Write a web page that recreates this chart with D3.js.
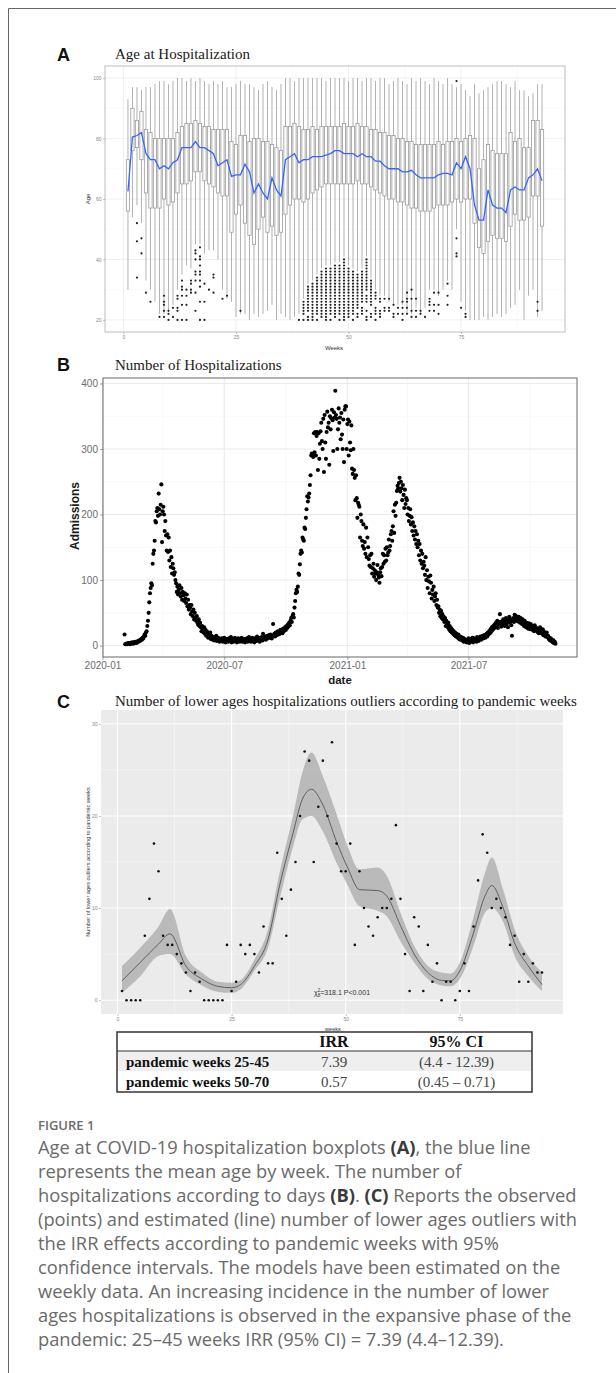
<!DOCTYPE html>
<html>
<head>
<meta charset="utf-8">
<script src="https://cdn.jsdelivr.net/npm/d3@7"></script>
<style>
  body { margin: 0; background: #fff; }
  svg { display: block; }
</style>
</head>
<body>
<svg id="fig" width="616" height="1373"></svg>
<script>
// ---------- panel A: age at hospitalization, weekly boxplots ----------
const weeks = [1,2,3,4,5,6,7,8,9,10,11,12,13,14,15,16,17,18,19,20,21,22,23,24,25,26,27,28,29,30,
  31,32,33,34,35,36,37,38,39,40,41,42,43,44,45,46,47,48,49,50,51,52,53,54,55,56,57,58,59,60,
  61,62,63,64,65,66,67,68,69,70,71,72,73,74,75,76,77,78,79,80,81,82,83,84,85,86,87,88,89,90,91,92,93];
const whiskerHigh = [93,97,97,96,97,97,98,99,99,98,99,100,100,99,100,99,100,99,98,99,98,99,97,97,98,99,98,98,97,96,
  98,99,97,96,98,100,100,99,100,100,100,100,100,100,99,100,100,100,100,99,100,100,99,100,100,99,100,100,98,99,
  100,99,98,100,99,100,99,98,100,99,98,100,98,97,98,96,94,98,95,96,97,98,99,99,98,97,99,96,96,94,95,98,98];
const upperHinge = [73,90,86,89,83,82,80,80,80,80,80,82,84,85,85,86,85,84,84,83,83,83,83,79,78,81,81,79,80,80,
  79,79,78,77,76,84,84,85,84,83,83,84,83,84,84,84,84,84,85,84,84,85,84,84,83,83,82,82,81,81,
  80,80,79,79,78,78,78,78,78,79,78,79,79,80,79,80,81,80,70,73,78,76,75,75,75,82,79,80,77,77,86,86,83];
const lowerHinge = [56,76,77,73,62,57,57,57,60,58,59,62,65,65,66,69,69,66,65,64,62,61,61,49,55,58,52,48,45,50,
  54,49,51,48,49,55,58,60,60,59,60,62,63,64,65,65,65,65,65,65,65,66,65,65,64,63,62,61,60,60,
  59,59,58,57,57,56,56,56,57,58,58,58,59,60,59,60,60,52,44,42,46,48,47,47,46,51,55,53,53,54,61,61,51];
const whiskerLow = [30,54,58,52,33,30,26,22,22,23,25,30,35,38,37,45,45,42,43,43,40,30,27,26,21,22,22,20,22,21,
  22,23,25,20,22,21,20,21,22,27,32,33,35,37,38,38,39,39,41,38,37,36,37,41,34,30,28,28,26,25,
  25,25,22,22,24,22,24,30,30,28,30,33,30,50,26,23,20,20,20,21,20,21,22,21,22,24,25,30,20,28,30,21,23];
const meanAge = [62.5,80.5,81,82,75,73,73,70,71,70,72,73,77,77,77,79,77,77,76,75,71,72,73,67.5,68,68,71.5,69,62,65,
  62,60,67,63,61,73,74,75,72,73,73,74,74,74,74.5,75,76,76,75,75,75,74,75,74,74,72.5,72.5,71,70,70,
  70,69,69,69.5,68,67,67,67,67,68,68.5,68.5,68,72,70,74,70,58,53,53,63,58,57,57,55.5,63,64,63,63,67,68,70,66];
// low-age outliers: [week, ages]
const outliers = [
  [3,[52,46,34]],[4,[47,42]],[5,[29]],[6,[26]],[8,[21]],[9,[28,26,25,23,21]],[10,[23,22,20]],
  [11,[24,21]],[12,[28,27,24,23,20]],[13,[33,31,30,28,25,20]],[14,[30,28,25,20]],[15,[33,32,30,29]],
  [16,[43,42,40,36,35,33,29,23]],[17,[44,41,40,38,36,35,33,31,26,20]],[18,[32,26,20]],[19,[30]],
  [20,[35,34,29]],[22,[27]],[23,[28]],[26,[23]],[39,[20]],
  [40,[20,22,23,24,25,26]],
  [41,[20,21,23,24,25,26,27,28,29,30,31]],
  [42,[20,21,22,23,24,25,26,27,28,29,30,31,32]],
  [43,[20,22,23,24,25,26,27,28,29,30,31,32,33,34]],
  [44,[21,22,23,24,25,26,27,28,29,30,31,32,33,34,35,36]],
  [45,[20,21,22,23,24,25,26,27,28,29,30,31,32,33,34,35,36,37]],
  [46,[20,22,23,24,25,26,27,28,29,30,31,32,33,34,35,36,37]],
  [47,[21,22,23,24,25,26,27,28,29,30,31,32,33,34,35,36,37,38]],
  [48,[20,22,23,24,25,26,27,28,29,30,31,32,33,34,35,36,37,38]],
  [49,[20,21,22,23,24,25,26,27,28,29,30,31,32,33,34,35,36,37,38,39,40]],
  [50,[21,22,23,24,25,26,27,28,29,30,31,32,33,34,35,36,37]],
  [51,[20,22,23,24,25,26,27,28,29,30,31,32,33,34,35,36]],
  [52,[21,22,24,25,26,27,28,29,30,31,32,33,34,35]],
  [53,[22,23,24,26,27,28,29,30,31,32,33,34,35,36]],
  [54,[20,21,23,26,27,28,30,31,32,33,34,35,36,37,38,39,40]],
  [55,[21,22,25,26,27,28,29,30,31,32,33]],
  [56,[20,22,23,24,27,28,29]],[57,[21,22,23,26,27]],[58,[23,24,27]],
  [59,[27,24,23]],[60,[25,22,21]],[61,[24,22]],[62,[26,24,22,20]],[63,[29,27,26,24,22]],
  [64,[30,27,23,21]],[65,[27,23,21]],[66,[23,22]],[67,[21]],[68,[27,26,25,23]],[69,[29,25,23]],
  [70,[29,25,22]],[72,[32,28,25]],[74,[99,47,42,41]],[75,[24]],[76,[22,21]],[92,[26,23]]
];
const ageTicks = [20, 40, 60, 80, 100];
const ageMinor = [30, 50, 70, 90];
const weekTicks = [0, 25, 50, 75];
const weekMinor = [12.5, 37.5, 62.5, 87.5];

// ---------- panel B: daily admissions ----------
const admissionsStart = [2020, 1, 3]; // 2020-02-03
const admissions = [
  17,2,2,3,2,3,4, 3,2,4,3,5,4,3, 5,4,6,5,4,6,7, 6,8,7,9,10,9,12,
  11,14,17,15,20,22,30, 38,50,66,80,88,95,92, 125,140,145,160,190,188,205, 210,198,232,208,200,215,246,
  158,205,212,200,175,190,168, 145,170,143,165,130,145,120, 135,110,125,118,108,112,100, 95,82,90,78,85,92,80,
  75,88,70,82,77,68,80, 72,65,78,60,70,55,62, 58,48,62,52,45,55,40, 50,42,38,45,35,32,40,
  30,35,28,22,30,25,20, 28,18,24,15,22,19,12, 17,14,20,10,15,12,9, 13,8,11,10,15,7,9,
  12,8,6,10,9,11,7, 6,9,12,8,5,10,7, 9,6,11,8,7,13,5, 8,10,6,9,12,7,8,
  5,9,11,7,6,10,8, 12,6,9,7,10,5,8, 9,11,6,8,13,7,10, 6,9,12,8,10,5,11,
  9,7,14,10,8,12,6, 11,9,13,8,18,10,12, 14,9,12,15,11,13,16, 12,17,14,11,15,33,16,
  18,14,20,16,19,22,17, 21,18,24,20,23,19,26, 22,25,28,24,30,27,32, 29,35,31,38,42,36,45,
  48,43,58,68,80,85,82, 90,110,108,124,140,145,142, 165,162,160,180,178,195,208, 228,220,226,232,245,260,290,
  293,292,288,324,295,326,290, 320,326,268,324,285,308,327, 340,312,300,346,265,352,310, 285,326,357,333,340,276,350,
  330,347,360,344,297,356,348, 389,352,346,300,330,362,340, 348,315,355,322,300,345,280, 360,365,365,300,338,345,290,
  342,310,298,336,270,262,300, 268,256,222,260,225,195,218, 215,212,165,200,190,160,152, 185,148,158,140,180,135,165,
  150,132,122,138,120,140,110, 118,125,105,115,110,100,112, 123,108,104,96,112,118,106, 120,140,125,138,128,148,130,
  150,138,142,162,145,152,170, 175,160,182,205,172,215,198, 218,236,244,240,248,256,235, 250,240,222,245,230,210,238,
  216,225,222,200,210,190,198, 208,185,196,175,188,168,182, 162,175,155,170,150,160,138, 155,130,145,125,140,118,128,
  122,108,135,100,115,88,105, 98,80,107,96,72,85,78, 90,68,75,80,62,70,58, 60,50,55,45,53,42,48,
  40,44,36,42,30,38,33, 28,35,25,30,22,27,20, 24,18,22,16,20,14,18, 15,12,17,10,14,9,13,
  11,8,12,6,10,7,9, 5,9,7,11,4,8,10, 6,9,12,5,8,11,7, 10,6,13,9,7,12,10,
  14,9,12,15,11,13,16, 12,15,18,14,20,17,22, 19,25,21,28,24,30,26, 32,28,35,30,38,27,33,
  36,48,34,29,37,32,40, 35,30,38,42,33,36,28, 39,44,35,40,31,15,38, 42,36,47,40,45,38,43,
  37,44,40,35,42,38,33, 40,36,30,38,34,28,35, 32,26,34,30,25,33,28, 30,24,28,22,31,26,23,
  27,21,25,19,24,28,20, 22,18,25,16,21,19,14, 17,20,13,15,10,12,8, 11,7,9,5,8,4,6,
  3
];
const admTicks = [0, 100, 200, 300, 400];
const admMinor = [50, 150, 250, 350];
const dateTicks = [[2020,0,1],[2020,6,1],[2021,0,1],[2021,6,1]];
const dateMinor = [[2020,3,1],[2020,9,1],[2021,3,1],[2021,9,1]];

// ---------- panel C: weekly count of low-age outliers ----------
const outlierCounts = [1,0,0,0,0,7,11,17,14,7,6,6,5,4,3,1,3,2,0,0,0,0,0,6,1,2,6,5,6,5,
  3,8,4,4,16,11,7,12,15,20,27,26,15,21,26,20,28,17,14,14,17,6,14,10,8,7,9,10,10,11,
  19,11,5,1,9,8,1,6,2,4,0,2,2,0,1,4,1,8,13,18,16,10,11,10,9,6,7,2,5,2,4,3,3];
const fitWeeks = [1,5,9,11.5,15,18.5,22,25,27,30,33,35.5,38.5,40.5,42.5,45,48,50.5,53,57,59,62,65,68,71,73,75,78,80.5,82,84.5,87,90,93];
const fitMean  = [2.1,4.1,6.1,7.2,3.7,2.3,1.5,1.35,1.7,3.7,6.6,12.4,18.2,21.8,22.9,21.2,17.2,14.3,12.0,11.9,11.3,8.1,5.0,3.0,2.15,2.1,3.2,7.3,11.3,12.45,10.0,6.2,3.7,1.7];
const fitHigh  = [3.7,5.7,8.0,9.9,4.8,3.0,2.0,1.9,2.2,4.4,7.7,13.8,20.1,24.7,26.9,24.3,20.2,16.6,14.2,14.4,13.5,9.5,5.9,3.7,3.0,2.9,4.1,9.0,13.8,15.5,12.0,7.7,4.8,3.0];
const fitLow   = [0.8,2.6,4.8,5.0,2.8,1.6,0.9,0.8,1.2,3.2,5.7,10.9,16.7,19.6,20.0,18.3,14.9,12.4,10.2,9.7,9.1,6.4,4.1,2.3,1.6,1.5,2.3,5.9,9.5,10.0,8.5,4.8,2.6,1.0];
const countTicks = [0, 10, 20, 30];
const countMinor = [5, 15, 25];

const tableHeader = ["", "IRR", "95% CI"];
const tableRows = [
  ["pandemic weeks 25-45", "7.39", "(4.4 - 12.39)"],
  ["pandemic weeks 50-70", "0.57", "(0.45 \u2013 0.71)"]
];

const captionLines = [
  [["Age at COVID-19 hospitalization boxplots ", 0], ["(A)", 1], [", the blue line", 0]],
  [["represents the mean age by week. The number of", 0]],
  [["hospitalizations according to days ", 0], ["(B)", 1], [". ", 0], ["(C)", 1], [" Reports the observed", 0]],
  [["(points) and estimated (line) number of lower ages outliers with", 0]],
  [["the IRR effects according to pandemic weeks with 95%", 0]],
  [["confidence intervals. The models have been estimated on the", 0]],
  [["weekly data. An increasing incidence in the number of lower", 0]],
  [["ages hospitalizations is observed in the expansive phase of the", 0]],
  [["pandemic: 25\u201345 weeks IRR (95% CI) = 7.39 (4.4\u201312.39).", 0]]
];

// ---------- drawing ----------
const SANS = "'Liberation Sans', Arial, sans-serif";
const SERIF = "'Liberation Serif', 'Times New Roman', serif";
const svg = d3.select("#fig");

// outer frame (top and left only)
svg.append("path").attr("d", "M8.5,1373 V8.5 H616")
  .attr("fill", "none").attr("stroke", "#666").attr("stroke-width", 1);

function grid(g, x, y, xMaj, xMin, yMaj, yMin, cMaj, cMin, wMaj, wMin) {
  const [x0, x1] = x.range();
  const [y0, y1] = y.range();
  const vl = (vals, c, w) => g.append("g").selectAll("line").data(vals).join("line")
    .attr("x1", d => x(d)).attr("x2", d => x(d)).attr("y1", y0).attr("y2", y1)
    .attr("stroke", c).attr("stroke-width", w);
  const hl = (vals, c, w) => g.append("g").selectAll("line").data(vals).join("line")
    .attr("x1", x0).attr("x2", x1).attr("y1", d => y(d)).attr("y2", d => y(d))
    .attr("stroke", c).attr("stroke-width", w);
  vl(xMin, cMin, wMin); hl(yMin, cMin, wMin);
  vl(xMaj, cMaj, wMaj); hl(yMaj, cMaj, wMaj);
}

function styleAxis(a, fs, col, tickCol) {
  a.select(".domain").remove();
  a.selectAll(".tick line").attr("stroke", tickCol).attr("stroke-width", 0.6);
  a.selectAll(".tick text").attr("font-size", fs).attr("fill", col).attr("font-family", SANS);
}

function panelLabel(letter, x, y) {
  svg.append("text").attr("x", x).attr("y", y).text(letter)
    .attr("font-family", SANS).attr("font-weight", "bold").attr("font-size", 18).attr("fill", "#111");
}
function panelTitle(t, x, y, fs) {
  svg.append("text").attr("x", x).attr("y", y).text(t)
    .attr("font-family", SERIF).attr("font-size", fs).attr("fill", "#1a1a1a");
}

// ===== Panel A =====
panelLabel("A", 57, 61);
panelTitle("Age at Hospitalization", 115, 59, 15);

const xA = d3.scaleLinear().domain([-4.1, 98.1]).range([105, 565]);
const yA = d3.scaleLinear().domain([16, 104]).range([332, 66]);
const gA = svg.append("g");
gA.append("rect").attr("x", 105).attr("y", 66).attr("width", 460).attr("height", 266).attr("fill", "#fff");
grid(gA, xA, yA, weekTicks, weekMinor, ageTicks, ageMinor, "#ececec", "#f5f5f5", 0.8, 0.5);

const bw = (xA(1) - xA(0)) * 0.72;
const boxes = weeks.map((w, i) => ({
  w, hi: whiskerHigh[i], q3: upperHinge[i], q1: lowerHinge[i], lo: whiskerLow[i]
}));
const gBox = gA.append("g");
gBox.selectAll(".wh").data(boxes).join("line")
  .attr("x1", d => xA(d.w)).attr("x2", d => xA(d.w))
  .attr("y1", d => yA(d.hi)).attr("y2", d => yA(d.q3))
  .attr("stroke", "#a8a8a8").attr("stroke-width", 0.9);
gBox.selectAll(".wl").data(boxes).join("line")
  .attr("x1", d => xA(d.w)).attr("x2", d => xA(d.w))
  .attr("y1", d => yA(d.q1)).attr("y2", d => yA(d.lo))
  .attr("stroke", "#a8a8a8").attr("stroke-width", 0.9);
gBox.selectAll("rect").data(boxes).join("rect")
  .attr("x", d => xA(d.w) - bw / 2).attr("width", bw)
  .attr("y", d => yA(d.q3)).attr("height", d => yA(d.q1) - yA(d.q3))
  .attr("fill", "#fff").attr("stroke", "#9a9a9a").attr("stroke-width", 0.8);

const outPts = outliers.flatMap(([w, ages]) => ages.map(a => [w, a]));
gA.append("g").selectAll("circle").data(outPts).join("circle")
  .attr("cx", d => xA(d[0])).attr("cy", d => yA(d[1])).attr("r", 1.1).attr("fill", "#222");

gA.append("path").datum(meanAge)
  .attr("d", d3.line().x((d, i) => xA(weeks[i])).y(d => yA(d)))
  .attr("fill", "none").attr("stroke", "#3366ff").attr("stroke-width", 1.3);

gA.append("rect").attr("x", 105).attr("y", 66).attr("width", 460).attr("height", 266)
  .attr("fill", "none").attr("stroke", "#bdbdbd").attr("stroke-width", 1);

styleAxis(gA.append("g").attr("transform", "translate(105,0)")
  .call(d3.axisLeft(yA).tickValues(ageTicks).tickSize(2).tickPadding(1.5)), 5, "#888", "#999");
styleAxis(gA.append("g").attr("transform", "translate(0,332)")
  .call(d3.axisBottom(xA).tickValues(weekTicks).tickSize(2).tickPadding(1.5)), 5, "#888", "#999");
gA.append("text").attr("transform", "translate(90,199) rotate(-90)").attr("text-anchor", "middle")
  .text("Age").attr("font-family", SANS).attr("font-size", 6).attr("fill", "#333");
gA.append("text").attr("x", 334).attr("y", 350).attr("text-anchor", "middle")
  .text("Weeks").attr("font-family", SANS).attr("font-size", 6).attr("fill", "#333");

// ===== Panel B =====
panelLabel("B", 57, 371);
panelTitle("Number of Hospitalizations", 115, 370, 15);

const admDates = admissions.map((v, i) =>
  new Date(admissionsStart[0], admissionsStart[1], admissionsStart[2] + i));
const tExt = d3.extent(admDates).map(d => +d);
const tPad = (tExt[1] - tExt[0]) * 0.05;
const vExt = d3.extent(admissions);
const vPad = (vExt[1] - vExt[0]) * 0.05;
const xB = d3.scaleTime().domain([new Date(tExt[0] - tPad), new Date(tExt[1] + tPad)]).range([103, 577]);
const yB = d3.scaleLinear().domain([vExt[0] - vPad, vExt[1] + vPad]).range([657, 378]);
const gB = svg.append("g");
const toDate = a => new Date(a[0], a[1], a[2]);
grid(gB, xB, yB, dateTicks.map(toDate), dateMinor.map(toDate), admTicks, admMinor, "#e6e6e6", "#f3f3f3", 0.9, 0.5);

gB.append("g").selectAll("circle").data(admissions).join("circle")
  .attr("cx", (d, i) => xB(admDates[i])).attr("cy", d => yB(d)).attr("r", 2.05).attr("fill", "#000");

gB.append("rect").attr("x", 103).attr("y", 378).attr("width", 474).attr("height", 279)
  .attr("fill", "none").attr("stroke", "#666").attr("stroke-width", 1);

styleAxis(gB.append("g").attr("transform", "translate(103,0)")
  .call(d3.axisLeft(yB).tickValues(admTicks).tickSize(3).tickPadding(2)), 10, "#6b6b6b", "#666");
styleAxis(gB.append("g").attr("transform", "translate(0,657)")
  .call(d3.axisBottom(xB).tickValues(dateTicks.map(toDate)).tickFormat(d3.timeFormat("%Y-%m"))
    .tickSize(3).tickPadding(1.5)), 10, "#6b6b6b", "#666");
gB.append("text").attr("transform", "translate(79,516) rotate(-90)").attr("text-anchor", "middle")
  .text("Admissions").attr("font-family", SANS).attr("font-weight", "bold").attr("font-size", 12).attr("fill", "#1a1a1a");
gB.append("text").attr("x", 340).attr("y", 684).attr("text-anchor", "middle")
  .text("date").attr("font-family", SANS).attr("font-weight", "bold").attr("font-size", 11.5).attr("fill", "#1a1a1a");

// ===== Panel C =====
panelLabel("C", 57, 708);
panelTitle("Number of lower ages hospitalizations outliers according to pandemic weeks", 115, 706, 15);

const xC = d3.scaleLinear().domain([-3.6, 97.6]).range([101, 563]);
const yC = d3.scaleLinear().domain([-1.5, 31.5]).range([1014, 710]);
const gC = svg.append("g");
gC.append("rect").attr("x", 101).attr("y", 710).attr("width", 462).attr("height", 304).attr("fill", "#ebebeb");
grid(gC, xC, yC, weekTicks, weekMinor, countTicks, countMinor, "#ffffff", "#f7f7f7", 1.1, 0.55);

gC.append("path").datum(fitWeeks)
  .attr("d", d3.area().curve(d3.curveMonotoneX)
    .x(d => xC(d)).y0((d, i) => yC(fitLow[i])).y1((d, i) => yC(fitHigh[i])))
  .attr("fill", "#999").attr("fill-opacity", 0.6);
gC.append("path").datum(fitWeeks)
  .attr("d", d3.line().curve(d3.curveMonotoneX).x(d => xC(d)).y((d, i) => yC(fitMean[i])))
  .attr("fill", "none").attr("stroke", "#555").attr("stroke-width", 0.9);
gC.append("g").selectAll("circle").data(outlierCounts).join("circle")
  .attr("cx", (d, i) => xC(weeks[i])).attr("cy", d => yC(d)).attr("r", 1.3).attr("fill", "#111");

const chi = gC.append("text").attr("x", 314).attr("y", 995)
  .attr("font-family", SANS).attr("font-size", 7).attr("fill", "#333");
chi.append("tspan").text("\u03c7");
chi.append("tspan").attr("font-size", 4.5).attr("dy", -3).text("2");
chi.append("tspan").attr("font-size", 4.5).attr("dx", -2.5).attr("dy", 5).text("8");
chi.append("tspan").attr("dy", -2).text("=318.1  P<0.001");

styleAxis(gC.append("g").attr("transform", "translate(101,0)")
  .call(d3.axisLeft(yC).tickValues(countTicks).tickSize(2).tickPadding(1.5)), 5, "#888", "#999");
styleAxis(gC.append("g").attr("transform", "translate(0,1014)")
  .call(d3.axisBottom(xC).tickValues(weekTicks).tickSize(2).tickPadding(1.5)), 5, "#888", "#999");
gC.append("text").attr("transform", "translate(89.5,862) rotate(-90)").attr("text-anchor", "middle")
  .text("Number of lower ages outliers according to pandemic weeks")
  .attr("font-family", SANS).attr("font-size", 5.6).attr("fill", "#333");
gC.append("text").attr("x", 333).attr("y", 1031).attr("text-anchor", "middle")
  .text("weeks").attr("font-family", SANS).attr("font-size", 5.6).attr("fill", "#333");

// ===== table =====
const tX0 = 117, tX1 = 532, tY = [1032, 1051, 1071, 1092];
const colPos = [[126, "start"], [334, "middle"], [456.5, "middle"]];
const gT = svg.append("g");
gT.append("rect").attr("x", tX0).attr("y", tY[1]).attr("width", tX1 - tX0).attr("height", tY[2] - tY[1]).attr("fill", "#efefef");
gT.append("line").attr("x1", tX0).attr("x2", tX1).attr("y1", tY[1]).attr("y2", tY[1]).attr("stroke", "#333").attr("stroke-width", 1.2);
gT.append("rect").attr("x", tX0).attr("y", tY[0]).attr("width", tX1 - tX0).attr("height", tY[3] - tY[0])
  .attr("fill", "none").attr("stroke", "#333").attr("stroke-width", 1.5);
gT.selectAll(".th").data(tableHeader).join("text")
  .attr("x", (d, i) => colPos[i][0]).attr("text-anchor", (d, i) => colPos[i][1]).attr("y", 1047)
  .text(d => d).attr("font-family", SERIF).attr("font-weight", "bold").attr("font-size", 16).attr("fill", "#111");
tableRows.forEach((row, r) => {
  gT.selectAll(null).data(row).join("text")
    .attr("x", (d, i) => colPos[i][0]).attr("text-anchor", (d, i) => colPos[i][1]).attr("y", 1066.5 + r * 20)
    .text(d => d).attr("font-family", SERIF).attr("font-size", 15)
    .attr("font-weight", (d, i) => i === 0 ? "bold" : "normal")
    .attr("fill", (d, i) => i === 0 ? "#111" : "#444");
});

// ===== caption =====
svg.append("text").attr("x", 38).attr("y", 1130).text("FIGURE 1")
  .attr("font-family", "'Open Sans', sans-serif").attr("font-weight", 600).attr("font-size", 13).attr("fill", "#6a6a6a");
const cap = svg.append("g").attr("font-family", "'Open Sans', sans-serif").attr("font-size", 18.3).attr("fill", "#6a6a6a");
captionLines.forEach((parts, i) => {
  const t = cap.append("text").attr("x", 38).attr("y", 1154 + i * 24);
  parts.forEach(([s, b]) => {
    const ts = t.append("tspan").text(s);
    if (b) ts.attr("font-weight", "bold").attr("fill", "#3a3a3a");
  });
});
</script>
</body>
</html>
